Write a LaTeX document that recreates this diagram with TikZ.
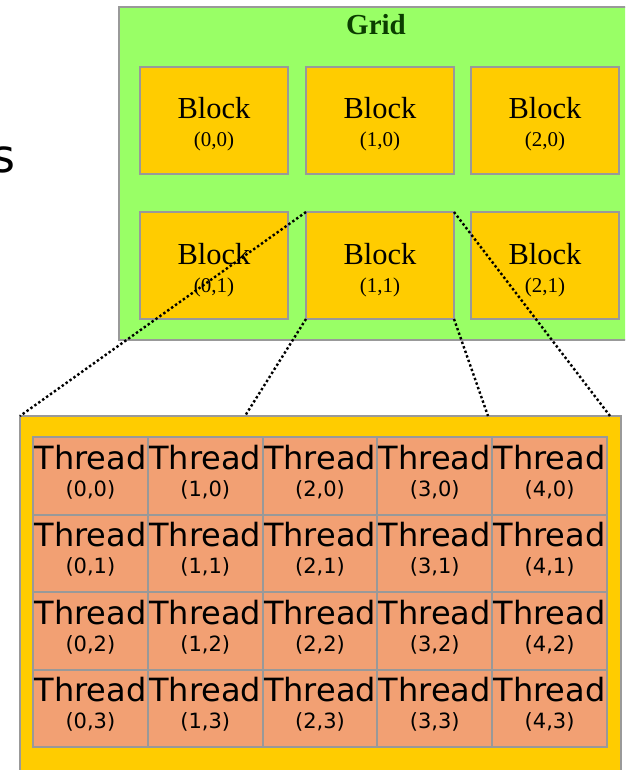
\documentclass[tikz,border=0pt]{standalone}
\usepackage{fontspec}
\setmainfont{Liberation Serif}
\newfontfamily\dejavu{DejaVu Sans}
\definecolor{gridgreen}{HTML}{99FF66}
\definecolor{blockyellow}{HTML}{FFCC00}
\definecolor{threadsalmon}{HTML}{F2A073}
\definecolor{edgegray}{HTML}{999999}
\definecolor{titlegreen}{HTML}{0B3D00}
\begin{document}
\begin{tikzpicture}[x=1pt,y=-1pt,
  box/.style={draw=edgegray, line width=2pt, rectangle, inner sep=0pt, outer sep=0pt},
  gridbox/.style={box, fill=gridgreen, minimum width=521pt, minimum height=333pt},
  blockbox/.style={box, fill=blockyellow, minimum width=148pt, minimum height=107pt},
  outerbox/.style={box, fill=blockyellow, minimum width=601pt, minimum height=374pt},
  cellbox/.style={box, fill=threadsalmon, minimum width=114.8pt, minimum height=77.5pt},
  blocktxt/.style={anchor=base, inner sep=0pt, font=\fontsize{30.5}{33}\selectfont},
  blockidx/.style={anchor=base, inner sep=0pt, font=\fontsize{21}{23}\selectfont},
  threadtxt/.style={anchor=base, inner sep=0pt, font=\dejavu\fontsize{32}{35}\selectfont},
  threadidx/.style={anchor=base, inner sep=0pt, font=\dejavu\fontsize{21}{23}\selectfont},
  zoomline/.style={line width=2.4pt, dash pattern=on 2.4pt off 2.4pt, black}
]
\useasboundingbox (0,0) rectangle (625,770);
\clip (0,0) rectangle (625,770);

% cut-off text at left
\node[anchor=base east, inner sep=0pt, font=\dejavu\fontsize{46}{50}\selectfont] (cut) at (16,172) {s};

% grid
\node[gridbox] (grid) at (379.5,173.5) {};
\node[anchor=base, inner sep=0pt, font=\bfseries\fontsize{29}{31}\selectfont, text=titlegreen] (gridtitle) at (376,35) {Grid};

% blocks
\foreach \i/\cx in {0/214,1/380,2/545} {
  \foreach \j/\top in {0/67,1/212} {
    \node[blockbox] (b\i\j) at (\cx,\top+53.5) {};
    \node[blocktxt] (bt\i\j) at (\cx,\top+52) {Block};
    \node[blockidx] (bi\i\j) at (\cx,\top+80) {(\i,\j)};
  }
}

% thread box
\node[outerbox] (tb) at (320.5,603) {};
\foreach \i in {0,...,4} {
  \foreach \j in {0,...,3} {
    \pgfmathsetmacro{\cx}{33+114.8*\i+57.4}
    \pgfmathsetmacro{\top}{437+77.5*\j}
    \node[cellbox] (c\i\j) at (\cx,\top+38.75) {};
    \node[threadtxt] (ct\i\j) at (\cx,\top+32) {Thread};
    \node[threadidx] (ci\i\j) at (\cx,\top+59) {(\i,\j)};
  }
}

% zoom lines
\coordinate (z1) at (245,416);
\coordinate (z2) at (488,416);
\coordinate (z3) at (610,416);
\draw[zoomline] (b11.north west) -- (tb.north west);
\draw[zoomline] (b11.south west) -- (z1);
\draw[zoomline] (b11.south east) -- (z2);
\draw[zoomline] (b11.north east) -- (z3);
\end{tikzpicture}
\end{document}
